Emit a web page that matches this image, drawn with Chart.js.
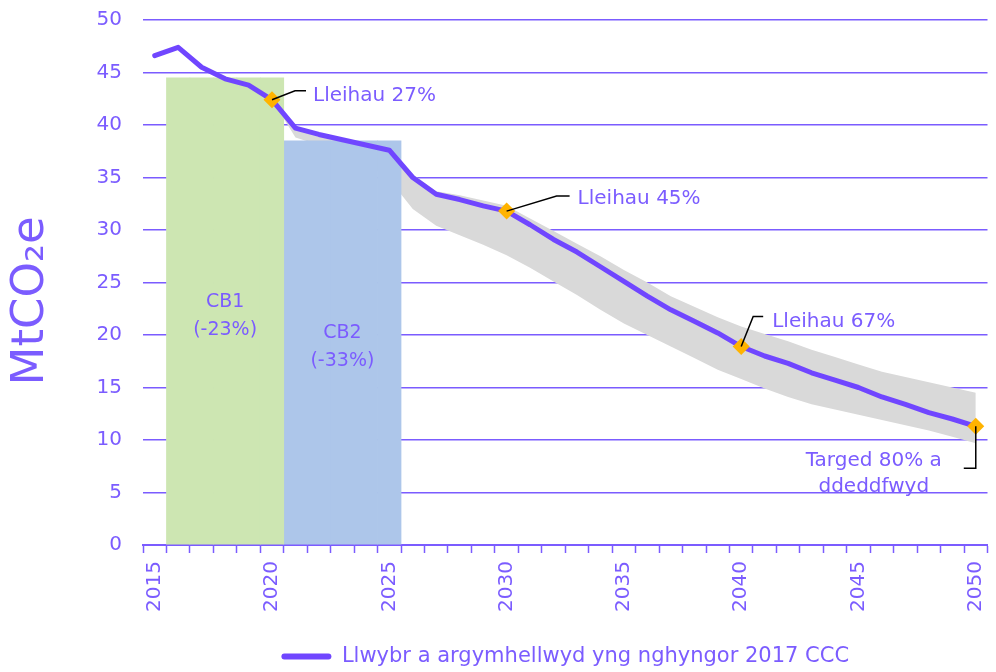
<!DOCTYPE html>
<html>
<head>
<meta charset="utf-8">
<script src="https://cdn.jsdelivr.net/npm/chart.js@4.4.1/dist/chart.umd.min.js"></script>
<style>
  html, body { margin: 0; padding: 0; background: #ffffff; }
  #wrap { width: 996px; height: 672px; position: relative; }
</style>
</head>
<body>
<div id="wrap"><canvas id="chart"></canvas></div>
<script>
// data
const years = [2015, 2016, 2017, 2018, 2019, 2020, 2021, 2022, 2023, 2024,
  2025, 2026, 2027, 2028, 2029, 2030, 2031, 2032, 2033, 2034,
  2035, 2036, 2037, 2038, 2039, 2040, 2041, 2042, 2043, 2044,
  2045, 2046, 2047, 2048, 2049, 2050];

const pathway = [46.6, 47.4, 45.5, 44.4, 43.8, 42.4, 39.7, 39.1, 38.6, 38.1,
  37.6, 35.0, 33.4, 32.9, 32.3, 31.8, 30.5, 29.1, 27.9, 26.5,
  25.1, 23.7, 22.4, 21.3, 20.2, 18.9, 18.0, 17.3, 16.4, 15.7,
  15.0, 14.1, 13.4, 12.6, 12.0, 11.3];

const bandUpper = [null, null, null, null, null, 42.4, 39.7, 39.1, 38.6, 38.1,
  37.6, 35.3, 33.7, 33.3, 32.8, 32.3, 31.1, 29.9, 28.7, 27.5,
  26.2, 25.0, 23.7, 22.7, 21.7, 20.8, 20.1, 19.4, 18.6, 17.9,
  17.2, 16.5, 16.0, 15.5, 15.0, 14.5];

const bandLower = [null, null, null, null, null, 42.4, 38.8, 38.1, 37.4, 36.5,
  34.8, 32.0, 30.4, 29.5, 28.6, 27.6, 26.4, 25.1, 23.8, 22.4,
  21.1, 20.0, 18.9, 17.8, 16.7, 15.8, 14.9, 14.1, 13.4, 12.9,
  12.4, 11.9, 11.4, 10.9, 10.3, 9.7];

const cb1Years = [2016, 2017, 2018, 2019, 2020];
const cb1Level = 44.5;
const cb2Years = [2021, 2022, 2023, 2024, 2025];
const cb2Level = 38.5;
const cbLabels = [['CB1', '(-23%)'], ['CB2', '(-33%)']];

const milestoneYears = [2020, 2030, 2040, 2050];
const milestoneLabels = [['Lleihau 27%'], ['Lleihau 45%'], ['Lleihau 67%'], ['Targed 80% a', 'ddeddfwyd']];

const yTicks = [0, 5, 10, 15, 20, 25, 30, 35, 40, 45, 50];
const legendLabel = 'Llwybr a argymhellwyd yng nghyngor 2017 CCC';
const yTitle = 'MtCO\u2082e\u2002 ';

const PURPLE = '#7B5CFF';
const LINE = '#7046FF';
const GREEN = '#CDE6B2';
const BLUE = '#ADC6EA';
const GRAY = '#D9D9D9';
const GOLD = '#FFB300';
const FONT = "'DejaVu Sans', sans-serif";

const cb1Data = years.map(y => cb1Years.includes(y) ? cb1Level : null);
const cb2Data = years.map(y => cb2Years.includes(y) ? cb2Level : null);
const milestoneData = years.map((y, i) => milestoneYears.includes(y) ? pathway[i] : null);

// leader line + text offsets from each diamond, in pixels
const calloutStyle = [
  { path: [[23, -9], [34, -9]], text: [41, 1], align: 'left' },
  { path: [[50, -15], [63, -15]], text: [71, -7], align: 'left' },
  { path: [[12, -30], [22, -30]], text: [31, -20], align: 'left' },
  { path: [[0, 42], [-12, 42]], text: [-102, 40], align: 'center' }
];

const calloutPlugin = {
  id: 'callouts',
  afterDatasetsDraw(chart) {
    const ctx = chart.ctx;
    const xs = chart.scales.x, ys = chart.scales.y;
    ctx.save();
    // CB labels inside the bars
    const cbCentres = [cb1Years[2], cb2Years[2]];
    const cbValues = [22.7, 19.7];
    ctx.font = '19px ' + FONT;
    ctx.fillStyle = PURPLE;
    ctx.textAlign = 'center';
    ctx.textBaseline = 'alphabetic';
    cbLabels.forEach((lines, k) => {
      const px = xs.getPixelForValue(years.indexOf(cbCentres[k]));
      const py = ys.getPixelForValue(cbValues[k]);
      lines.forEach((t, j) => ctx.fillText(t, px, py + j * 28));
    });
    // milestone callouts
    ctx.font = '20px ' + FONT;
    milestoneYears.forEach((yr, k) => {
      const idx = years.indexOf(yr);
      const px = xs.getPixelForValue(idx);
      const py = ys.getPixelForValue(pathway[idx]);
      const st = calloutStyle[k];
      ctx.strokeStyle = '#000000';
      ctx.lineWidth = 1.5;
      ctx.beginPath();
      ctx.moveTo(px, py);
      st.path.forEach(p => ctx.lineTo(px + p[0], py + p[1]));
      ctx.stroke();
      ctx.fillStyle = PURPLE;
      ctx.textAlign = st.align;
      milestoneLabels[k].forEach((t, j) => ctx.fillText(t, px + st.text[0], py + st.text[1] + j * 26));
    });
    ctx.restore();
  }
};

Chart.defaults.font.family = FONT;
Chart.defaults.color = PURPLE;

const ctx = document.getElementById('chart').getContext('2d');
new Chart(ctx, {
  type: 'line',
  data: {
    labels: years,
    datasets: [
      {
        label: legendLabel,
        data: pathway,
        borderColor: LINE,
        backgroundColor: LINE,
        borderWidth: 5,
        borderJoinStyle: 'round',
        borderCapStyle: 'round',
        pointRadius: 0,
        tension: 0,
        order: 1
      },
      {
        label: 'milestones',
        data: milestoneData,
        showLine: false,
        pointStyle: 'rectRot',
        pointRadius: 8.5,
        pointBackgroundColor: GOLD,
        pointBorderWidth: 0,
        order: 0
      },
      {
        type: 'bar',
        label: 'CB1',
        data: cb1Data,
        backgroundColor: GREEN,
        categoryPercentage: 1,
        barPercentage: 1,
        grouped: false,
        order: 2
      },
      {
        type: 'bar',
        label: 'CB2',
        data: cb2Data,
        backgroundColor: BLUE,
        categoryPercentage: 1,
        barPercentage: 1,
        grouped: false,
        order: 2
      },
      {
        label: 'lower',
        data: bandLower,
        borderWidth: 0,
        pointRadius: 0,
        fill: false,
        order: 3
      },
      {
        label: 'upper',
        data: bandUpper,
        borderWidth: 0,
        pointRadius: 0,
        backgroundColor: GRAY,
        fill: '-1',
        order: 3
      }
    ]
  },
  options: {
    responsive: true,
    maintainAspectRatio: false,
    animation: false,
    layout: { padding: { top: 20, right: 8, bottom: -5, left: 0 } },
    plugins: {
      tooltip: { enabled: false },
      legend: {
        position: 'bottom',
        fullSize: false,
        labels: {
          color: PURPLE,
          font: { size: 21, family: FONT },
          boxWidth: 50,
          boxHeight: 6,
          padding: 10,
          generateLabels: () => [{
            text: legendLabel,
            fillStyle: LINE,
            strokeStyle: LINE,
            lineWidth: 0,
            fontColor: PURPLE,
            datasetIndex: 0,
            borderRadius: 3
          }],
          useBorderRadius: true,
          borderRadius: 3
        }
      }
    },
    scales: {
      x: {
        type: 'category',
        offset: true,
        grid: {
          offset: true,
          drawOnChartArea: false,
          drawTicks: true,
          tickLength: 8,
          tickColor: PURPLE,
          tickWidth: 1.5
        },
        border: { display: true, color: PURPLE, width: 2 },
        ticks: {
          autoSkip: false,
          minRotation: 90,
          maxRotation: 90,
          padding: 8,
          color: PURPLE,
          font: { size: 20 },
          callback: (v, i) => (years[i] % 5 === 0 ? String(years[i]) : '')
        },
        afterFit: s => { s.height = 91; s.paddingLeft = 0; s.paddingRight = 0; }
      },
      y: {
        min: 0,
        max: 50,
        afterBuildTicks: s => { s.ticks = yTicks.map(v => ({ value: v })); },
        grid: { color: PURPLE, lineWidth: 1.5, drawTicks: true, tickLength: 21, tickColor: 'rgba(0,0,0,0)' },
        border: { display: false },
        ticks: { padding: 0, color: PURPLE, font: { size: 20 } },
        title: {
          display: true,
          text: yTitle,
          color: PURPLE,
          font: { size: 45, family: FONT },
          padding: { top: 4, bottom: 0 }
        },
        afterFit: s => { s.width = 143; s.paddingTop = 0; s.paddingBottom = 0; }
      }
    }
  },
  plugins: [calloutPlugin]
});
</script>
</body>
</html>
